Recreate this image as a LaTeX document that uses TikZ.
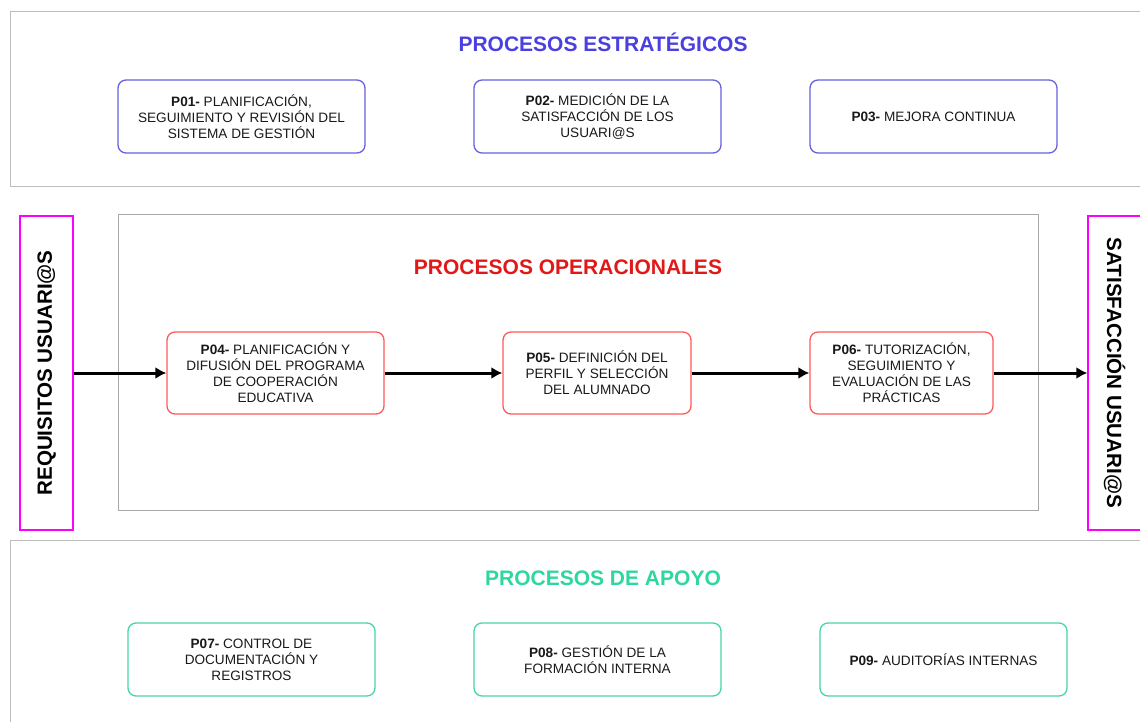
\documentclass[tikz,border=0pt]{standalone}
\usepackage{fontspec}
\setmainfont{Liberation Sans}
\usetikzlibrary{positioning, arrows.meta, calc}
\definecolor{estblue}{HTML}{4A3FE0}
\definecolor{estbox}{HTML}{6660E0}
\definecolor{opred}{HTML}{E01818}
\definecolor{opbox}{HTML}{FF5A5A}
\definecolor{apteal}{HTML}{2ED6A0}
\definecolor{apbox}{HTML}{48D4A8}
\definecolor{bandgray}{HTML}{BDBDBD}
\definecolor{innergray}{HTML}{A8A8A8}
\definecolor{usrmag}{HTML}{FF00FF}

\tikzset{
  procbox/.style={draw, line width=1.3pt, rounded corners=8pt, fill=white,
    align=center, inner sep=0pt, font=\fontsize{13.6}{16}\selectfont, text=black!90},
  estbox/.style={procbox, draw=estbox, minimum width=247pt, minimum height=73pt},
  opbox/.style={procbox, draw=opbox, minimum height=82pt},
  apbox/.style={procbox, draw=apbox, minimum width=247pt, minimum height=73pt},
  bandtitle/.style={font=\fontsize{21}{24}\selectfont\bfseries},
  usrbox/.style={draw=usrmag, line width=1.3pt, minimum width=314pt, minimum height=53pt,
    inner sep=0pt, font=\fontsize{20.6}{22}\selectfont\bfseries},
  flow/.style={line width=3pt, -{Latex[length=11pt,width=12pt]}}
}

\begin{document}
\begin{tikzpicture}[x=1pt, y=-1pt]
    \useasboundingbox (0,0) rectangle (1140,722);
    % bandas
    \draw[bandgray, line width=1pt] (10,12) rectangle (1160,187);
    \draw[bandgray, line width=1pt] (10,760) -- (10,540) -- (1160,540);
    \draw[innergray, line width=1pt] (118,215) rectangle (1038,510);

    % estrategicos
    \node[bandtitle, text=estblue] (tit-est) at (603,42) {PROCESOS ESTRATÉGICOS};
    \node[estbox] (p01) at (241.5,116.5) {\textbf{P01-} PLANIFICACIÓN,\\SEGUIMIENTO Y REVISIÓN DEL\\SISTEMA DE GESTIÓN};
    \node[estbox] (p02) at (597.5,116.5) {\textbf{P02-} MEDICIÓN DE LA\\SATISFACCIÓN DE LOS\\USUARI@S};
    \node[estbox] (p03) at (933.5,116.5) {\textbf{P03-} MEJORA CONTINUA};

    % operacionales
    \node[bandtitle, text=opred] (tit-op) at (568,267) {PROCESOS OPERACIONALES};
    \node[opbox, minimum width=217pt] (p04) at (275.5,373) {\textbf{P04-} PLANIFICACIÓN Y\\DIFUSIÓN DEL PROGRAMA\\DE COOPERACIÓN\\EDUCATIVA};
    \node[opbox, minimum width=188pt] (p05) at (597,373) {\textbf{P05-} DEFINICIÓN DEL\\PERFIL Y SELECCIÓN\\DEL ALUMNADO};
    \node[opbox, minimum width=183pt] (p06) at (901.5,373) {\textbf{P06-} TUTORIZACIÓN,\\SEGUIMIENTO Y\\EVALUACIÓN DE LAS\\PRÁCTICAS};

    % usuarios
    \node[usrbox, rotate=90] (req) at (46.5,373) {REQUISITOS USUARI@S};
    \node[usrbox, rotate=-90] (sat) at (1114.5,373) {SATISFACCIÓN USUARI@S};

    \draw[flow] (req.south) -- (p04.west);
    \draw[flow] (p04.east) -- (p05.west);
    \draw[flow] (p05.east) -- (p06.west);
    \draw[flow] (p06.east) -- (sat.south);

    % apoyo
    \node[bandtitle, text=apteal] (tit-ap) at (603,578) {PROCESOS DE APOYO};
    \node[apbox] (p07) at (251.5,659.5) {\textbf{P07-} CONTROL DE\\DOCUMENTACIÓN Y\\REGISTROS};
    \node[apbox] (p08) at (597.5,659.5) {\textbf{P08-} GESTIÓN DE LA\\FORMACIÓN INTERNA};
    \node[apbox] (p09) at (943.5,659.5) {\textbf{P09-} AUDITORÍAS INTERNAS};
\end{tikzpicture}
\end{document}
